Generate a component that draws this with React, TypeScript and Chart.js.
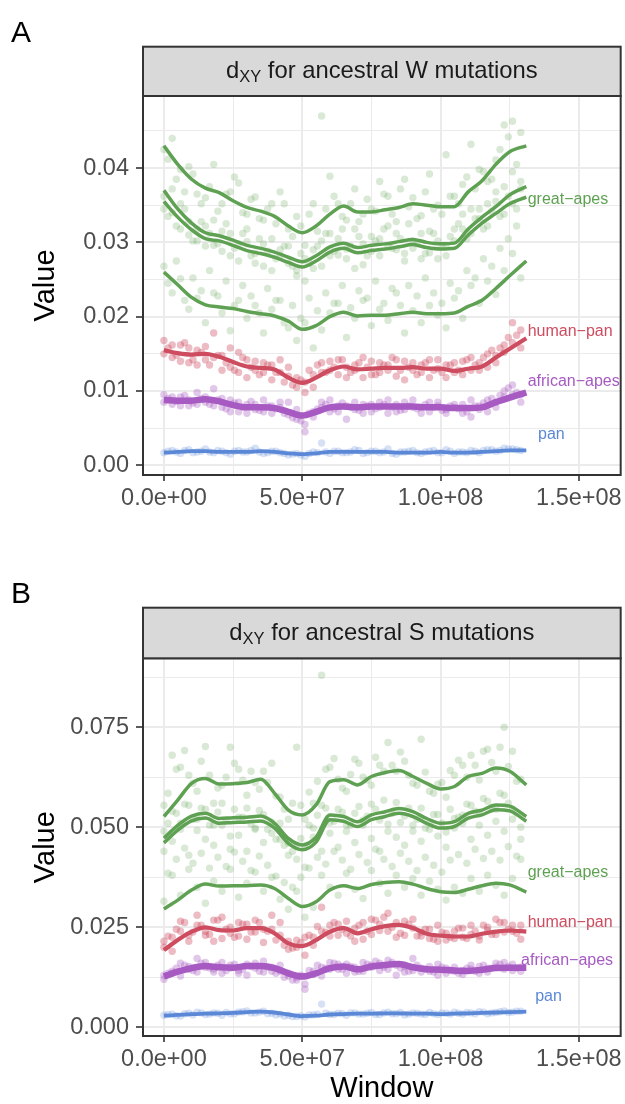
import React, { useEffect, useRef } from "react";
import { Chart, registerables } from "chart.js";

Chart.register(...registerables);

const FONT = "'Liberation Sans', Arial, Helvetica, sans-serif";
Chart.defaults.font.family = FONT;

const CANVAS_W = 625;
const CANVAS_H = 552;

// ---------- shared axis data ----------
const X_MIN = -7.554e6;
const X_MAX = 1.6511e8;
const X_MAJOR = [0, 5e7, 1e8, 1.5e8];
const X_MINOR = [2.5e7, 7.5e7, 1.25e8];

const Y_MAJOR_A = [0, 0.01, 0.02, 0.03, 0.04];
const Y_MINOR_A = [0.005, 0.015, 0.025, 0.035, 0.045];
const Y_MAJOR_B = [0, 0.025, 0.05, 0.075];
const Y_MINOR_B = [0.0125, 0.0375, 0.0625, 0.0875];

const GROUP_NAMES = ["great\u2212apes", "human\u2212pan", "african\u2212apes", "pan"];
const GROUP_COLORS = ["#5fa152", "#cd4c60", "#a65ac2", "#5b88d6"];
const POINT_COLORS = [
  "rgba(95,161,82,0.24)",
  "rgba(205,76,96,0.38)",
  "rgba(166,90,194,0.34)",
  "rgba(91,136,214,0.25)",
];

// label anchor positions (data coords)
const LABEL_X_A = [1.315e8, 1.315e8, 1.315e8, 1.3525e8];
const LABEL_Y_A = [0.0358, 0.018, 0.0112, 0.0041];
const LABEL_X_B = [1.315e8, 1.315e8, 1.291e8, 1.342e8];
const LABEL_Y_B = [0.0388, 0.0262, 0.0168, 0.0078];

// ---------- windows (Mb) ----------
const WINDOW_MB = [0, 3, 6, 9, 12, 15, 18, 21, 24, 27, 30, 33, 36, 39, 42, 45, 48, 51, 54, 57, 60, 63, 66, 69, 72, 75, 78, 81, 84, 87, 90, 93, 96, 99, 102, 105, 108, 111, 114, 117, 120, 123, 126, 129];
const WINDOW_MB_2 = [1.5, 4.5, 7.5, 10.5, 13.5, 16.5, 19.5, 22.5, 25.5, 28.5, 31.5, 34.5, 37.5, 40.5, 43.5, 46.5, 49.5, 52.5, 55.5, 58.5, 61.5, 64.5, 67.5, 70.5, 73.5, 76.5, 79.5, 82.5, 85.5, 88.5, 91.5, 94.5, 97.5, 100.5, 103.5, 106.5, 109.5, 112.5, 115.5, 118.5, 121.5, 124.5, 127.5];
const SMOOTH_MB = [0, 5, 10, 15, 20, 25, 30, 35, 40, 45, 50, 55, 60, 65, 70, 75, 80, 85, 90, 95, 100, 105, 110, 115, 120, 125, 131];

// ---------- panel A points ----------
const A_GREAT_1 = [0.0425, 0.044, 0.0398, 0.0402, 0.0365, 0.036, 0.0405, 0.0352, 0.0368, 0.038, 0.0338, 0.0361, 0.033, 0.0352, 0.0368, 0.0318, 0.0335, 0.0296, 0.0352, 0.047, 0.0389, 0.0352, 0.033, 0.0372, 0.0338, 0.0345, 0.0382, 0.0362, 0.0328, 0.0385, 0.036, 0.0336, 0.0392, 0.035, 0.0418, 0.0362, 0.0378, 0.0432, 0.0398, 0.0382, 0.0411, 0.0458, 0.0463, 0.0448];
const A_GREAT_2 = [0.0362, 0.034, 0.0352, 0.031, 0.0318, 0.0295, 0.033, 0.0288, 0.0312, 0.0275, 0.0301, 0.0285, 0.0268, 0.0305, 0.029, 0.0272, 0.0255, 0.0248, 0.0265, 0.0302, 0.0312, 0.0283, 0.0291, 0.0318, 0.027, 0.0288, 0.0305, 0.0322, 0.029, 0.0275, 0.0302, 0.0312, 0.0286, 0.0278, 0.0295, 0.0302, 0.0318, 0.0345, 0.0332, 0.0352, 0.0368, 0.0338, 0.0395, 0.0372];
const A_GREAT_3 = [0.0268, 0.0232, 0.0251, 0.021, 0.0225, 0.0192, 0.0232, 0.0205, 0.0181, 0.0222, 0.0198, 0.0215, 0.0178, 0.021, 0.0222, 0.0185, 0.0168, 0.0192, 0.0158, 0.0182, 0.0205, 0.0218, 0.0172, 0.0198, 0.0222, 0.0188, 0.021, 0.0195, 0.0232, 0.0178, 0.0208, 0.0192, 0.0215, 0.0202, 0.0185, 0.0225, 0.0198, 0.0242, 0.0218, 0.0248, 0.023, 0.0262, 0.0285, 0.0252];
const A_GREAT_4 = [0.0345, 0.0372, 0.0318, 0.0328, 0.0302, 0.0322, 0.0296, 0.0315, 0.0282, 0.0298, 0.0318, 0.0272, 0.0298, 0.0262, 0.0282, 0.0295, 0.0262, 0.0278, 0.029, 0.0268, 0.0282, 0.0305, 0.0278, 0.0265, 0.0298, 0.0308, 0.0282, 0.0295, 0.0312, 0.0285, 0.0292, 0.0278, 0.0315, 0.0302, 0.0282, 0.0318, 0.0338, 0.0312, 0.0345, 0.0322, 0.0355, 0.0375, 0.0352, 0.0382];
const A_GREAT_5 = [0.0412, 0.0385, 0.0368, 0.0392, 0.0352, 0.0375, 0.0342, 0.0365, 0.0388, 0.034, 0.0358, 0.0332, 0.0345, 0.0325, 0.0352, 0.0308, 0.0322, 0.0338, 0.0315, 0.0345, 0.0362, 0.0335, 0.0352, 0.0328, 0.0358, 0.0342, 0.0365, 0.0338, 0.0372, 0.0348, 0.0332, 0.0368, 0.0345, 0.0338, 0.0362, 0.0352, 0.0388, 0.0372, 0.0395, 0.0385, 0.0425, 0.0442, 0.0405];
const A_GREAT_6 = [0.0245, 0.0275, 0.0222, 0.0252, 0.0235, 0.0262, 0.0228, 0.0248, 0.0215, 0.0242, 0.0228, 0.0205, 0.0238, 0.0222, 0.0192, 0.0215, 0.0198, 0.0225, 0.0208, 0.0232, 0.0218, 0.0242, 0.0212, 0.0235, 0.0225, 0.0248, 0.0218, 0.0238, 0.0215, 0.0242, 0.0228, 0.0252, 0.0232, 0.0218, 0.0245, 0.0235, 0.0262, 0.0252, 0.0278, 0.0268, 0.0292, 0.0305, 0.0322];
const A_GREAT_7 = [0.0335, 0.0322, 0.0345, 0.0302, 0.0328, 0.0312, 0.0298, 0.0325, 0.0292, 0.0312, 0.0282, 0.0305, 0.0288, 0.0278, 0.0295, 0.0268, 0.0285, 0.0272, 0.0295, 0.0312, 0.0288, 0.0318, 0.0295, 0.0308, 0.0282, 0.0302, 0.0318, 0.0292, 0.0305, 0.0325, 0.0298, 0.0285, 0.0312, 0.0295, 0.0308, 0.0325, 0.0305, 0.0332, 0.0318, 0.0342, 0.0335, 0.0362, 0.0345];
const A_HUMAN_1 = [0.0168, 0.0145, 0.0162, 0.0138, 0.0155, 0.0142, 0.0178, 0.0148, 0.0132, 0.0152, 0.0118, 0.014, 0.0125, 0.0135, 0.0142, 0.012, 0.0105, 0.0098, 0.0122, 0.0138, 0.0128, 0.0142, 0.0118, 0.0135, 0.0145, 0.0122, 0.0138, 0.0128, 0.0142, 0.0115, 0.0138, 0.0125, 0.0142, 0.013, 0.0118, 0.0138, 0.0122, 0.0145, 0.0128, 0.015, 0.0138, 0.0162, 0.0192, 0.0158];
const A_HUMAN_2 = [0.015, 0.0162, 0.014, 0.0158, 0.0135, 0.016, 0.0145, 0.0128, 0.0158, 0.0125, 0.0142, 0.0128, 0.0138, 0.0115, 0.0125, 0.0132, 0.0118, 0.0112, 0.0105, 0.0125, 0.014, 0.0122, 0.0132, 0.0128, 0.0118, 0.014, 0.0125, 0.0135, 0.012, 0.014, 0.0128, 0.0135, 0.0118, 0.0142, 0.0135, 0.0125, 0.014, 0.0128, 0.0138, 0.0132, 0.0148, 0.0152, 0.0165, 0.0182];
const A_HUMAN_3 = [0.0158, 0.0148, 0.0165, 0.0142, 0.0152, 0.0135, 0.0148, 0.0138, 0.0128, 0.0145, 0.0132, 0.0122, 0.0135, 0.0125, 0.0112, 0.0108, 0.0115, 0.0128, 0.0135, 0.0125, 0.0132, 0.0142, 0.0125, 0.0138, 0.0132, 0.0122, 0.0135, 0.0145, 0.0128, 0.0132, 0.0122, 0.0138, 0.0128, 0.0125, 0.0135, 0.0128, 0.0142, 0.0135, 0.0145, 0.0155, 0.0158, 0.0172, 0.0175];
const A_AFRICAN_1 = [0.0095, 0.0082, 0.0092, 0.008, 0.0098, 0.0085, 0.0103, 0.0078, 0.0088, 0.0072, 0.0082, 0.0075, 0.0088, 0.007, 0.0078, 0.0085, 0.0062, 0.0055, 0.0072, 0.0085, 0.0088, 0.0072, 0.008, 0.0085, 0.007, 0.0082, 0.0078, 0.0088, 0.0072, 0.0085, 0.0078, 0.007, 0.0085, 0.008, 0.0075, 0.0082, 0.007, 0.0088, 0.0075, 0.0072, 0.0085, 0.0092, 0.0108, 0.0095];
const A_AFRICAN_2 = [0.0085, 0.0092, 0.008, 0.0088, 0.0082, 0.0092, 0.008, 0.009, 0.0072, 0.0085, 0.007, 0.0082, 0.0072, 0.008, 0.0085, 0.0068, 0.0075, 0.0045, 0.0065, 0.0078, 0.0072, 0.008, 0.0062, 0.0075, 0.0082, 0.0072, 0.0085, 0.007, 0.0082, 0.0075, 0.0088, 0.0078, 0.0072, 0.0085, 0.007, 0.0078, 0.0082, 0.0065, 0.008, 0.0088, 0.0078, 0.01, 0.0095, 0.0085];
const A_AFRICAN_3 = [0.009, 0.0086, 0.0094, 0.0084, 0.009, 0.0082, 0.0088, 0.0076, 0.0084, 0.0078, 0.0086, 0.0074, 0.008, 0.0076, 0.007, 0.0064, 0.006, 0.007, 0.0076, 0.0082, 0.0076, 0.0084, 0.0078, 0.0074, 0.008, 0.0076, 0.0082, 0.0078, 0.0074, 0.008, 0.0076, 0.0082, 0.0078, 0.0074, 0.008, 0.0076, 0.0072, 0.008, 0.0084, 0.009, 0.0094, 0.0104, 0.0098];
const A_PAN = [0.0017, 0.002, 0.0016, 0.0021, 0.0018, 0.0022, 0.0017, 0.0019, 0.0015, 0.002, 0.0018, 0.0023, 0.0016, 0.0019, 0.0017, 0.0014, 0.0016, 0.0012, 0.0018, 0.003, 0.0016, 0.0019, 0.0017, 0.0021, 0.0016, 0.0019, 0.0017, 0.0022, 0.0015, 0.0018, 0.002, 0.0016, 0.0019, 0.0017, 0.0021, 0.0016, 0.0018, 0.002, 0.0017, 0.0021, 0.0019, 0.0023, 0.0022, 0.002];
const A_PAN_2 = [0.0019, 0.0018, 0.002, 0.0017, 0.0019, 0.0018, 0.002, 0.0017, 0.0019, 0.0018, 0.002, 0.0018, 0.0017, 0.0019, 0.0016, 0.0015, 0.0014, 0.0016, 0.0017, 0.0018, 0.0019, 0.0017, 0.0018, 0.002, 0.0017, 0.0019, 0.0018, 0.0016, 0.0018, 0.0019, 0.0017, 0.0018, 0.002, 0.0017, 0.0019, 0.0018, 0.0017, 0.0019, 0.002, 0.0021, 0.002, 0.0022, 0.0021];

// ---------- panel A smooth lines ----------
const A_SMOOTH_GREAT_1 = [0.043, 0.0405, 0.0385, 0.0373, 0.0367, 0.0356, 0.0347, 0.0342, 0.0335, 0.0322, 0.0313, 0.0322, 0.0338, 0.0349, 0.0341, 0.0341, 0.0344, 0.0347, 0.0352, 0.035, 0.0348, 0.0348, 0.0368, 0.0383, 0.0405, 0.0422, 0.043];
const A_SMOOTH_GREAT_2 = [0.037, 0.0345, 0.0326, 0.0313, 0.0309, 0.0303, 0.0296, 0.0292, 0.0287, 0.028, 0.0274, 0.0282, 0.0294, 0.0299, 0.0293, 0.0296, 0.0298, 0.0301, 0.0304, 0.03, 0.0298, 0.0299, 0.0318, 0.0334, 0.0348, 0.0364, 0.0375];
const A_SMOOTH_GREAT_3 = [0.0355, 0.0334, 0.0317, 0.0305, 0.0302, 0.0296, 0.0289, 0.0285, 0.028, 0.0273, 0.0267, 0.0275, 0.0287, 0.0292, 0.0286, 0.0289, 0.0291, 0.0294, 0.0297, 0.0293, 0.0291, 0.0292, 0.031, 0.0326, 0.0339, 0.0352, 0.0361];
const A_SMOOTH_GREAT_4 = [0.026, 0.0243, 0.0226, 0.0216, 0.0213, 0.0211, 0.0207, 0.0204, 0.0201, 0.0194, 0.0183, 0.0188, 0.02, 0.0206, 0.0201, 0.0202, 0.0202, 0.0204, 0.0206, 0.0204, 0.0204, 0.0205, 0.0214, 0.0222, 0.0238, 0.0255, 0.0275];
const A_SMOOTH_HUMAN = [0.0155, 0.0151, 0.0149, 0.015, 0.0146, 0.0139, 0.0133, 0.0131, 0.0129, 0.0118, 0.0111, 0.0118, 0.0128, 0.0133, 0.0129, 0.013, 0.0131, 0.0131, 0.0132, 0.013, 0.013, 0.0127, 0.013, 0.0133, 0.0145, 0.0157, 0.0171];
const A_SMOOTH_AFRICAN = [0.0088, 0.0087, 0.0087, 0.0089, 0.0086, 0.0081, 0.0078, 0.0078, 0.0077, 0.0072, 0.0067, 0.0072, 0.0078, 0.0079, 0.0078, 0.0079, 0.0079, 0.0079, 0.0079, 0.0078, 0.0078, 0.0077, 0.0077, 0.0078, 0.0085, 0.0091, 0.0098];
const A_SMOOTH_PAN = [0.0017, 0.0018, 0.0019, 0.0019, 0.0018, 0.0018, 0.0018, 0.0019, 0.0018, 0.0016, 0.0015, 0.0016, 0.0018, 0.0018, 0.0018, 0.0018, 0.0018, 0.0017, 0.0017, 0.0017, 0.0018, 0.0017, 0.0017, 0.0018, 0.0019, 0.002, 0.002];

// ---------- panel B points ----------
const B_GREAT_1 = [0.0555, 0.068, 0.065, 0.063, 0.059, 0.0702, 0.056, 0.0605, 0.07, 0.0645, 0.058, 0.0612, 0.064, 0.066, 0.0575, 0.052, 0.07, 0.052, 0.056, 0.088, 0.065, 0.062, 0.059, 0.067, 0.0625, 0.0605, 0.0655, 0.0712, 0.064, 0.0665, 0.061, 0.072, 0.059, 0.0608, 0.0575, 0.063, 0.0655, 0.068, 0.0618, 0.0695, 0.064, 0.075, 0.069, 0.062];
const B_GREAT_2 = [0.049, 0.054, 0.051, 0.0555, 0.0492, 0.0545, 0.0505, 0.056, 0.0478, 0.0525, 0.0548, 0.0495, 0.0532, 0.0485, 0.051, 0.046, 0.042, 0.0452, 0.0498, 0.0555, 0.0512, 0.0545, 0.049, 0.0535, 0.0505, 0.0558, 0.0518, 0.049, 0.0562, 0.0528, 0.0505, 0.0548, 0.0495, 0.0532, 0.0488, 0.0522, 0.051, 0.0555, 0.0538, 0.0565, 0.0545, 0.058, 0.052, 0.05];
const B_GREAT_3 = [0.044, 0.0465, 0.0495, 0.043, 0.052, 0.047, 0.0455, 0.0505, 0.0445, 0.048, 0.044, 0.0498, 0.0462, 0.0512, 0.047, 0.043, 0.0455, 0.04, 0.0475, 0.044, 0.0485, 0.045, 0.0505, 0.0462, 0.0518, 0.0472, 0.044, 0.0508, 0.0475, 0.0455, 0.049, 0.0465, 0.0512, 0.0478, 0.045, 0.0498, 0.053, 0.047, 0.0505, 0.048, 0.0515, 0.049, 0.0545, 0.047];
const B_GREAT_4 = [0.0315, 0.038, 0.033, 0.0395, 0.035, 0.031, 0.0365, 0.034, 0.0395, 0.0325, 0.036, 0.0388, 0.034, 0.0375, 0.032, 0.0295, 0.034, 0.0275, 0.03, 0.038, 0.035, 0.033, 0.0385, 0.0345, 0.0322, 0.0392, 0.036, 0.0335, 0.038, 0.035, 0.0372, 0.033, 0.0365, 0.0345, 0.0318, 0.035, 0.0335, 0.0372, 0.034, 0.038, 0.0355, 0.033, 0.0372, 0.042];
const B_GREAT_5 = [0.0585, 0.0645, 0.0692, 0.061, 0.0665, 0.063, 0.0598, 0.0625, 0.066, 0.0618, 0.064, 0.0595, 0.0612, 0.0578, 0.0545, 0.056, 0.0555, 0.0588, 0.0615, 0.0645, 0.0672, 0.0598, 0.0632, 0.066, 0.0618, 0.0675, 0.064, 0.0655, 0.0688, 0.063, 0.0605, 0.0638, 0.0585, 0.0612, 0.0642, 0.0668, 0.0625, 0.0655, 0.069, 0.0662, 0.07, 0.0652, 0.0615];
const B_GREAT_6 = [0.0385, 0.042, 0.0448, 0.041, 0.0435, 0.0398, 0.0425, 0.0402, 0.0438, 0.0415, 0.0392, 0.0428, 0.0405, 0.0378, 0.0362, 0.035, 0.0375, 0.0398, 0.0425, 0.0408, 0.044, 0.0418, 0.0395, 0.0432, 0.0412, 0.0445, 0.042, 0.0402, 0.0435, 0.0415, 0.0392, 0.0425, 0.0405, 0.0388, 0.0418, 0.0432, 0.041, 0.0445, 0.0422, 0.044, 0.0418, 0.0452, 0.0428];
const B_GREAT_7 = [0.051, 0.0535, 0.0558, 0.052, 0.0548, 0.0505, 0.0538, 0.0515, 0.0545, 0.0525, 0.0508, 0.0542, 0.0495, 0.047, 0.0455, 0.044, 0.0472, 0.0505, 0.053, 0.0548, 0.0515, 0.0538, 0.0505, 0.0552, 0.0528, 0.0545, 0.0568, 0.0535, 0.0512, 0.0548, 0.052, 0.0498, 0.0532, 0.051, 0.0545, 0.0525, 0.0558, 0.054, 0.0572, 0.055, 0.0585, 0.056, 0.0535];
const B_HUMAN_1 = [0.0215, 0.019, 0.0265, 0.023, 0.028, 0.024, 0.0215, 0.0275, 0.0235, 0.0262, 0.022, 0.0268, 0.0245, 0.028, 0.023, 0.0195, 0.0218, 0.018, 0.0225, 0.03, 0.0255, 0.023, 0.0265, 0.0248, 0.022, 0.027, 0.0242, 0.0285, 0.0262, 0.023, 0.027, 0.0238, 0.0222, 0.0255, 0.0218, 0.024, 0.0225, 0.0255, 0.0228, 0.025, 0.027, 0.0238, 0.0255, 0.022];
const B_HUMAN_2 = [0.02, 0.0225, 0.024, 0.0215, 0.0255, 0.023, 0.0268, 0.0222, 0.025, 0.0228, 0.0258, 0.0238, 0.0212, 0.0245, 0.0262, 0.0215, 0.02, 0.0225, 0.0205, 0.024, 0.0228, 0.0258, 0.0235, 0.0215, 0.0262, 0.0232, 0.0258, 0.024, 0.0225, 0.0265, 0.0248, 0.0228, 0.0245, 0.0215, 0.0235, 0.0222, 0.0248, 0.0232, 0.0218, 0.0242, 0.0232, 0.0262, 0.024, 0.0255];
const B_HUMAN_3 = [0.0228, 0.0245, 0.0262, 0.0238, 0.0255, 0.0232, 0.0268, 0.0245, 0.0225, 0.0258, 0.0238, 0.0262, 0.024, 0.0218, 0.0205, 0.0198, 0.0212, 0.023, 0.0252, 0.0238, 0.0262, 0.0245, 0.0228, 0.0255, 0.024, 0.0268, 0.0275, 0.025, 0.0235, 0.0258, 0.0228, 0.0245, 0.022, 0.0238, 0.0225, 0.0248, 0.0222, 0.024, 0.0255, 0.0232, 0.0262, 0.0245, 0.0235];
const B_AFRICAN_1 = [0.013, 0.014, 0.016, 0.0145, 0.0172, 0.015, 0.0138, 0.0162, 0.0148, 0.0135, 0.0158, 0.0148, 0.0165, 0.014, 0.0155, 0.0128, 0.0118, 0.0095, 0.0132, 0.015, 0.0162, 0.0145, 0.0158, 0.0138, 0.0162, 0.015, 0.0142, 0.0168, 0.0155, 0.0138, 0.0172, 0.0148, 0.014, 0.0158, 0.0135, 0.015, 0.0142, 0.0155, 0.0135, 0.0148, 0.016, 0.0145, 0.0158, 0.014];
const B_AFRICAN_2 = [0.012, 0.0135, 0.0128, 0.0152, 0.0138, 0.0162, 0.0145, 0.0135, 0.0155, 0.0142, 0.013, 0.016, 0.0138, 0.015, 0.014, 0.0135, 0.0125, 0.0108, 0.014, 0.0128, 0.0145, 0.0158, 0.0135, 0.015, 0.014, 0.0155, 0.016, 0.0145, 0.013, 0.0152, 0.0142, 0.0138, 0.0152, 0.013, 0.0148, 0.014, 0.0132, 0.0145, 0.0152, 0.0138, 0.015, 0.0162, 0.0142, 0.015];
const B_AFRICAN_3 = [0.0135, 0.0148, 0.0155, 0.0142, 0.016, 0.0148, 0.0155, 0.0142, 0.0158, 0.0145, 0.0152, 0.014, 0.015, 0.0135, 0.0125, 0.0118, 0.013, 0.0142, 0.0155, 0.0148, 0.016, 0.0145, 0.0152, 0.014, 0.0158, 0.0165, 0.015, 0.0162, 0.0148, 0.014, 0.0155, 0.0145, 0.0138, 0.015, 0.0142, 0.0135, 0.0148, 0.014, 0.0155, 0.0148, 0.0158, 0.0152, 0.0148];
const B_PAN = [0.003, 0.0033, 0.0028, 0.0035, 0.0038, 0.0032, 0.0036, 0.003, 0.0034, 0.0038, 0.0041, 0.0036, 0.004, 0.0035, 0.0033, 0.003, 0.0027, 0.0026, 0.0031, 0.0058, 0.0032, 0.0035, 0.003, 0.0036, 0.0033, 0.0037, 0.0032, 0.0038, 0.0034, 0.0031, 0.0036, 0.0033, 0.0037, 0.0032, 0.0035, 0.0038, 0.0033, 0.0036, 0.0039, 0.0034, 0.0037, 0.0041, 0.0038, 0.004];
const B_PAN_2 = [0.0032, 0.0029, 0.0034, 0.0031, 0.0036, 0.0033, 0.0035, 0.0037, 0.0034, 0.0039, 0.0036, 0.0038, 0.0034, 0.0031, 0.0028, 0.0027, 0.0029, 0.0031, 0.0033, 0.0035, 0.0032, 0.0034, 0.0036, 0.0033, 0.0035, 0.0032, 0.0036, 0.0034, 0.0037, 0.0033, 0.0035, 0.0032, 0.0034, 0.0036, 0.0033, 0.0035, 0.0037, 0.0034, 0.0038, 0.0036, 0.0039, 0.0037, 0.004];

// ---------- panel B smooth lines ----------
const B_SMOOTH_GREAT_1 = [0.0527, 0.0568, 0.061, 0.0622, 0.0608, 0.0609, 0.0612, 0.062, 0.0585, 0.0543, 0.0531, 0.0556, 0.0614, 0.0619, 0.0606, 0.0627, 0.0637, 0.0642, 0.0627, 0.061, 0.0596, 0.0602, 0.0627, 0.0635, 0.0648, 0.064, 0.0606];
const B_SMOOTH_GREAT_2 = [0.0473, 0.0505, 0.0528, 0.0535, 0.0522, 0.0524, 0.0525, 0.0528, 0.051, 0.0472, 0.0456, 0.0475, 0.0531, 0.0527, 0.0514, 0.0531, 0.0539, 0.0547, 0.0539, 0.0522, 0.051, 0.0514, 0.0535, 0.0543, 0.0556, 0.0553, 0.0527];
const B_SMOOTH_GREAT_3 = [0.0461, 0.0493, 0.0516, 0.0523, 0.051, 0.0512, 0.0513, 0.0516, 0.0498, 0.046, 0.0444, 0.0463, 0.0519, 0.0515, 0.0502, 0.0519, 0.0527, 0.0535, 0.0527, 0.051, 0.0498, 0.0502, 0.0523, 0.0531, 0.0544, 0.0541, 0.0515];
const B_SMOOTH_GREAT_4 = [0.0296, 0.0318, 0.0343, 0.0358, 0.0353, 0.0354, 0.0354, 0.0356, 0.0347, 0.0322, 0.0302, 0.0314, 0.0343, 0.0354, 0.0347, 0.0357, 0.0362, 0.0364, 0.0358, 0.0347, 0.0339, 0.0337, 0.0345, 0.0354, 0.036, 0.0356, 0.0338];
const B_SMOOTH_HUMAN = [0.0193, 0.0218, 0.0239, 0.025, 0.0243, 0.0242, 0.0248, 0.0248, 0.0235, 0.021, 0.0203, 0.0218, 0.0239, 0.0248, 0.0235, 0.0245, 0.0253, 0.0256, 0.0248, 0.0234, 0.0229, 0.0227, 0.0227, 0.0234, 0.0239, 0.0242, 0.0239];
const B_SMOOTH_AFRICAN = [0.0127, 0.0139, 0.0148, 0.0153, 0.015, 0.0149, 0.0153, 0.0153, 0.0148, 0.0135, 0.0127, 0.0135, 0.0148, 0.0152, 0.0145, 0.0152, 0.0156, 0.0158, 0.015, 0.0145, 0.0144, 0.0142, 0.0141, 0.0144, 0.0148, 0.0149, 0.0149];
const B_SMOOTH_PAN = [0.0029, 0.0031, 0.0033, 0.0034, 0.0035, 0.0036, 0.0038, 0.0039, 0.0037, 0.0032, 0.0028, 0.0029, 0.0032, 0.0033, 0.0034, 0.0034, 0.0035, 0.0035, 0.0034, 0.0034, 0.0033, 0.0034, 0.0035, 0.0036, 0.0037, 0.0038, 0.0039];

// ---------- panel definitions ----------
type LineDef = { values: number[]; group: number; width: number };
type PointDef = { values: number[]; windows: number[]; group: number };
type PanelSpec = {
  letter: string;
  titleMain: string;
  titleSub: string;
  titleRest: string;
  stripTop: number;
  areaTop: number;
  xAxisH: number;
  yMin: number;
  yMax: number;
  yMajor: number[];
  yMinor: number[];
  yDigits: number;
  lines: LineDef[];
  points: PointDef[];
  labelX: number[];
  labelY: number[];
  xTitle: string;
};

const PANEL_A: PanelSpec = {
  letter: "A",
  titleMain: "d",
  titleSub: "XY",
  titleRest: " for ancestral W mutations",
  stripTop: 46.7,
  areaTop: 96,
  xAxisH: 77,
  yMin: -0.001305,
  yMax: 0.0497,
  yMajor: Y_MAJOR_A,
  yMinor: Y_MINOR_A,
  yDigits: 2,
  lines: [
    { values: A_SMOOTH_GREAT_1, group: 0, width: 3.5 },
    { values: A_SMOOTH_GREAT_2, group: 0, width: 3.5 },
    { values: A_SMOOTH_GREAT_3, group: 0, width: 3.5 },
    { values: A_SMOOTH_GREAT_4, group: 0, width: 3.5 },
    { values: A_SMOOTH_HUMAN, group: 1, width: 4.2 },
    { values: A_SMOOTH_AFRICAN, group: 2, width: 6.5 },
    { values: A_SMOOTH_PAN, group: 3, width: 3.8 },
  ],
  points: [
    { values: A_GREAT_1, windows: WINDOW_MB, group: 0 },
    { values: A_GREAT_2, windows: WINDOW_MB, group: 0 },
    { values: A_GREAT_3, windows: WINDOW_MB, group: 0 },
    { values: A_GREAT_4, windows: WINDOW_MB, group: 0 },
    { values: A_GREAT_5, windows: WINDOW_MB_2, group: 0 },
    { values: A_GREAT_6, windows: WINDOW_MB_2, group: 0 },
    { values: A_GREAT_7, windows: WINDOW_MB_2, group: 0 },
    { values: A_HUMAN_1, windows: WINDOW_MB, group: 1 },
    { values: A_HUMAN_2, windows: WINDOW_MB, group: 1 },
    { values: A_HUMAN_3, windows: WINDOW_MB_2, group: 1 },
    { values: A_AFRICAN_1, windows: WINDOW_MB, group: 2 },
    { values: A_AFRICAN_2, windows: WINDOW_MB, group: 2 },
    { values: A_AFRICAN_3, windows: WINDOW_MB_2, group: 2 },
    { values: A_PAN, windows: WINDOW_MB, group: 3 },
    { values: A_PAN_2, windows: WINDOW_MB_2, group: 3 },
  ],
  labelX: LABEL_X_A,
  labelY: LABEL_Y_A,
  xTitle: "",
};

const PANEL_B: PanelSpec = {
  letter: "B",
  titleMain: "d",
  titleSub: "XY",
  titleRest: " for ancestral S mutations",
  stripTop: 55.7,
  areaTop: 106.3,
  xAxisH: 68,
  yMin: -0.002175,
  yMax: 0.09225,
  yMajor: Y_MAJOR_B,
  yMinor: Y_MINOR_B,
  yDigits: 3,
  lines: [
    { values: B_SMOOTH_GREAT_1, group: 0, width: 3.5 },
    { values: B_SMOOTH_GREAT_2, group: 0, width: 3.5 },
    { values: B_SMOOTH_GREAT_3, group: 0, width: 3.5 },
    { values: B_SMOOTH_GREAT_4, group: 0, width: 3.5 },
    { values: B_SMOOTH_HUMAN, group: 1, width: 4.2 },
    { values: B_SMOOTH_AFRICAN, group: 2, width: 6.5 },
    { values: B_SMOOTH_PAN, group: 3, width: 3.8 },
  ],
  points: [
    { values: B_GREAT_1, windows: WINDOW_MB, group: 0 },
    { values: B_GREAT_2, windows: WINDOW_MB, group: 0 },
    { values: B_GREAT_3, windows: WINDOW_MB, group: 0 },
    { values: B_GREAT_4, windows: WINDOW_MB, group: 0 },
    { values: B_GREAT_5, windows: WINDOW_MB_2, group: 0 },
    { values: B_GREAT_6, windows: WINDOW_MB_2, group: 0 },
    { values: B_GREAT_7, windows: WINDOW_MB_2, group: 0 },
    { values: B_HUMAN_1, windows: WINDOW_MB, group: 1 },
    { values: B_HUMAN_2, windows: WINDOW_MB, group: 1 },
    { values: B_HUMAN_3, windows: WINDOW_MB_2, group: 1 },
    { values: B_AFRICAN_1, windows: WINDOW_MB, group: 2 },
    { values: B_AFRICAN_2, windows: WINDOW_MB, group: 2 },
    { values: B_AFRICAN_3, windows: WINDOW_MB_2, group: 2 },
    { values: B_PAN, windows: WINDOW_MB, group: 3 },
    { values: B_PAN_2, windows: WINDOW_MB_2, group: 3 },
  ],
  labelX: LABEL_X_B,
  labelY: LABEL_Y_B,
  xTitle: "Window",
};

function fmtExp(v: number): string {
  const [m, e] = v.toExponential(1).split("e");
  const sign = e[0] === "-" ? "-" : "+";
  const digits = e.replace(/^[+-]/, "").padStart(2, "0");
  return `${m}e${sign}${digits}`;
}

const TICK_FONT = 23.5;
const STRIP_FONT = 23.8;
const SUB_FONT = 16.5;
const TITLE_FONT = 29;
const LABEL_FONT = 16;
const LETTER_FONT = 30;

function buildConfig(spec: PanelSpec): any {
  const xTicks = [...X_MAJOR, ...X_MINOR].sort((a, b) => a - b);
  const yTicks = [...spec.yMajor, ...spec.yMinor].sort((a, b) => a - b);
  const isMajorX = (v: number) => X_MAJOR.some((m) => Math.abs(m - v) < 1);
  const isMajorY = (v: number) => spec.yMajor.some((m) => Math.abs(m - v) < 1e-9);

  const datasets: any[] = [];
  spec.lines.forEach((l, i) => {
    datasets.push({
      type: "line",
      data: SMOOTH_MB.map((w, k) => ({ x: w * 1e6, y: l.values[k] })),
      borderColor: GROUP_COLORS[l.group],
      borderWidth: l.width,
      pointRadius: 0,
      pointHoverRadius: 0,
      fill: false,
      cubicInterpolationMode: "monotone",
      borderCapStyle: "butt",
      borderJoinStyle: "round",
      order: 10 - i,
    });
  });
  spec.points.forEach((p) => {
    const n = Math.min(p.windows.length, p.values.length);
    datasets.push({
      type: "scatter",
      data: p.windows.slice(0, n).map((w, k) => ({ x: w * 1e6, y: p.values[k] })),
      backgroundColor: POINT_COLORS[p.group],
      borderWidth: 0,
      pointRadius: 3.7,
      pointHoverRadius: 3.7,
      order: 100,
    });
  });

  const deco = {
    id: "deco",
    afterDatasetsDraw(chart: any) {
      const { ctx, chartArea: a, scales } = chart;
      ctx.save();
      ctx.font = `${LABEL_FONT}px ${FONT}`;
      ctx.textAlign = "left";
      ctx.textBaseline = "middle";
      GROUP_NAMES.forEach((name, i) => {
        ctx.fillStyle = GROUP_COLORS[i];
        ctx.fillText(name, scales.x.getPixelForValue(spec.labelX[i]), scales.y.getPixelForValue(spec.labelY[i]));
      });
      ctx.strokeStyle = "#333333";
      ctx.lineWidth = 2;
      ctx.strokeRect(a.left, a.top, a.right - a.left, a.bottom - a.top);
      ctx.restore();
    },
    afterDraw(chart: any) {
      const { ctx, chartArea: a } = chart;
      ctx.save();
      ctx.fillStyle = "#d9d9d9";
      ctx.fillRect(a.left, spec.stripTop, a.right - a.left, a.top - spec.stripTop);
      ctx.strokeStyle = "#333333";
      ctx.lineWidth = 2;
      ctx.strokeRect(a.left, spec.stripTop, a.right - a.left, a.top - spec.stripTop);
      ctx.textAlign = "left";
      ctx.textBaseline = "alphabetic";
      ctx.fillStyle = "#1a1a1a";
      ctx.font = `${STRIP_FONT}px ${FONT}`;
      const wMain = ctx.measureText(spec.titleMain).width;
      const wRest = ctx.measureText(spec.titleRest).width;
      ctx.font = `${SUB_FONT}px ${FONT}`;
      const wSub = ctx.measureText(spec.titleSub).width;
      let x = (a.left + a.right) / 2 - (wMain + wSub + wRest) / 2;
      const base = (spec.stripTop + a.top) / 2 + 7;
      ctx.font = `${STRIP_FONT}px ${FONT}`;
      ctx.fillText(spec.titleMain, x, base);
      x += wMain;
      ctx.font = `${SUB_FONT}px ${FONT}`;
      ctx.fillText(spec.titleSub, x, base + 4);
      x += wSub;
      ctx.font = `${STRIP_FONT}px ${FONT}`;
      ctx.fillText(spec.titleRest, x, base);
      ctx.fillStyle = "#000000";
      ctx.font = `${LETTER_FONT}px ${FONT}`;
      ctx.fillText(spec.letter, 11, spec.stripTop - 4.8);
      ctx.restore();
    },
  };

  return {
    type: "scatter",
    data: { datasets },
    plugins: [deco],
    options: {
      animation: false,
      responsive: false,
      devicePixelRatio: 1,
      events: [],
      layout: { padding: { top: spec.areaTop, right: 2, left: 0, bottom: 0 } },
      plugins: { legend: { display: false }, tooltip: { enabled: false } },
      scales: {
        x: {
          type: "linear",
          min: X_MIN,
          max: X_MAX,
          afterBuildTicks: (scale: any) => {
            scale.ticks = xTicks.map((v) => ({ value: v }));
          },
          afterFit: (scale: any) => {
            scale.height = spec.xAxisH;
          },
          ticks: {
            autoSkip: false,
            maxRotation: 0,
            minRotation: 0,
            padding: 3,
            color: "#4d4d4d",
            font: { size: TICK_FONT, family: FONT },
            callback: (v: number) => (isMajorX(v) ? fmtExp(v) : ""),
          },
          grid: {
            color: "#ebebeb",
            lineWidth: (c: any) => (c.tick && isMajorX(c.tick.value) ? 2 : 1),
            tickColor: (c: any) => (c.tick && isMajorX(c.tick.value) ? "#333333" : "rgba(0,0,0,0)"),
            tickWidth: 1.6,
            tickLength: 6,
            drawTicks: true,
          },
          border: { display: false },
          title: {
            display: !!spec.xTitle,
            text: spec.xTitle,
            color: "#000000",
            font: { size: TITLE_FONT, family: FONT, lineHeight: 1 },
            padding: { top: 0, bottom: 0.3 },
          },
        },
        y: {
          type: "linear",
          min: spec.yMin,
          max: spec.yMax,
          afterBuildTicks: (scale: any) => {
            scale.ticks = yTicks.map((v) => ({ value: v }));
          },
          afterFit: (scale: any) => {
            scale.width = 143;
          },
          ticks: {
            autoSkip: false,
            padding: 7,
            color: "#4d4d4d",
            font: { size: TICK_FONT, family: FONT },
            callback: (v: number) => (isMajorY(v) ? v.toFixed(spec.yDigits) : ""),
          },
          grid: {
            color: "#ebebeb",
            lineWidth: (c: any) => (c.tick && isMajorY(c.tick.value) ? 2 : 1),
            tickColor: (c: any) => (c.tick && isMajorY(c.tick.value) ? "#333333" : "rgba(0,0,0,0)"),
            tickWidth: 1.6,
            tickLength: 7,
            drawTicks: true,
          },
          border: { display: false },
          title: {
            display: true,
            text: "Value",
            color: "#000000",
            font: { size: TITLE_FONT, family: FONT, lineHeight: 1 },
            padding: { top: 31.5, bottom: 0 },
          },
        },
      },
    },
  };
}

function Panel({ spec, top }: { spec: PanelSpec; top: number }) {
  const ref = useRef<HTMLCanvasElement | null>(null);
  useEffect(() => {
    if (!ref.current) return;
    const chart = new Chart(ref.current, buildConfig(spec));
    return () => chart.destroy();
  }, [spec]);
  return (
    <canvas
      ref={ref}
      width={CANVAS_W}
      height={CANVAS_H}
      style={{ position: "absolute", left: 0, top, width: CANVAS_W, height: CANVAS_H, display: "block" }}
    />
  );
}

export default function App() {
  return (
    <div style={{ position: "absolute", left: 0, top: 0, width: CANVAS_W, height: 1104, background: "#ffffff", overflow: "hidden" }}>
      <Panel spec={PANEL_A} top={0} />
      <Panel spec={PANEL_B} top={552} />
    </div>
  );
}
